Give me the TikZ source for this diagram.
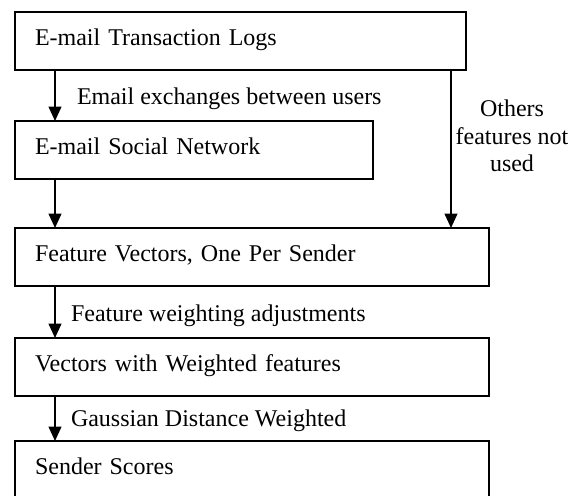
\documentclass[tikz,border=0pt]{standalone}
\usepackage{fontspec}
\setmainfont{Liberation Serif}
\usetikzlibrary{arrows.meta}
\begin{document}
\begin{tikzpicture}[x=0.5pt,y=-0.5pt,
  every node/.style={font=\fontsize{12pt}{13.8pt}\selectfont, outer sep=0pt},
  box/.style={draw, line width=0.9pt, inner xsep=10pt, inner ysep=0pt,
    text height=17pt, text depth=12pt, align=left, anchor=north west},
  flow/.style={draw, line width=0.9pt, -{Triangle[width=6.4pt,length=7.2pt]}},
  lbl/.style={anchor=base west, inner sep=0pt}]
\useasboundingbox (0,0) rectangle (579,496);
\clip (0,0) rectangle (579,496);
\node[box, text width=205.5pt] (b1) at (15,12) {E-mail Transaction Logs};
\node[box, text width=159pt] (b2) at (15,121) {E-mail Social Network};
\node[box, text width=217pt] (b3) at (15,228) {Feature Vectors, One Per Sender};
\node[box, text width=217pt] (b4) at (15,338) {Vectors with Weighted features};
\node[box, text width=217pt] (b5) at (15,441) {Sender Scores};
\coordinate (lx) at (55,0);
\coordinate (rx) at (451,0);
\draw[flow] (b1.south -| lx) -- (b2.north -| lx);
\draw[flow] (b2.south -| lx) -- (b3.north -| lx);
\draw[flow] (b1.south -| rx) -- (b3.north -| rx);
\draw[flow] (b3.south -| lx) -- (b4.north -| lx);
\draw[flow] (b4.south -| lx) -- (b5.north -| lx);
\node[lbl] (l1) at (77,105) {Email exchanges between users};
\node[lbl] (l3) at (71,322) {Feature weighting adjustments};
\node[lbl] (l4) at (71,427) {Gaussian Distance Weighted};
\node[align=center, inner sep=0pt] (oth) at (512,136) {Others\\features not\\used};
\end{tikzpicture}
\end{document}
